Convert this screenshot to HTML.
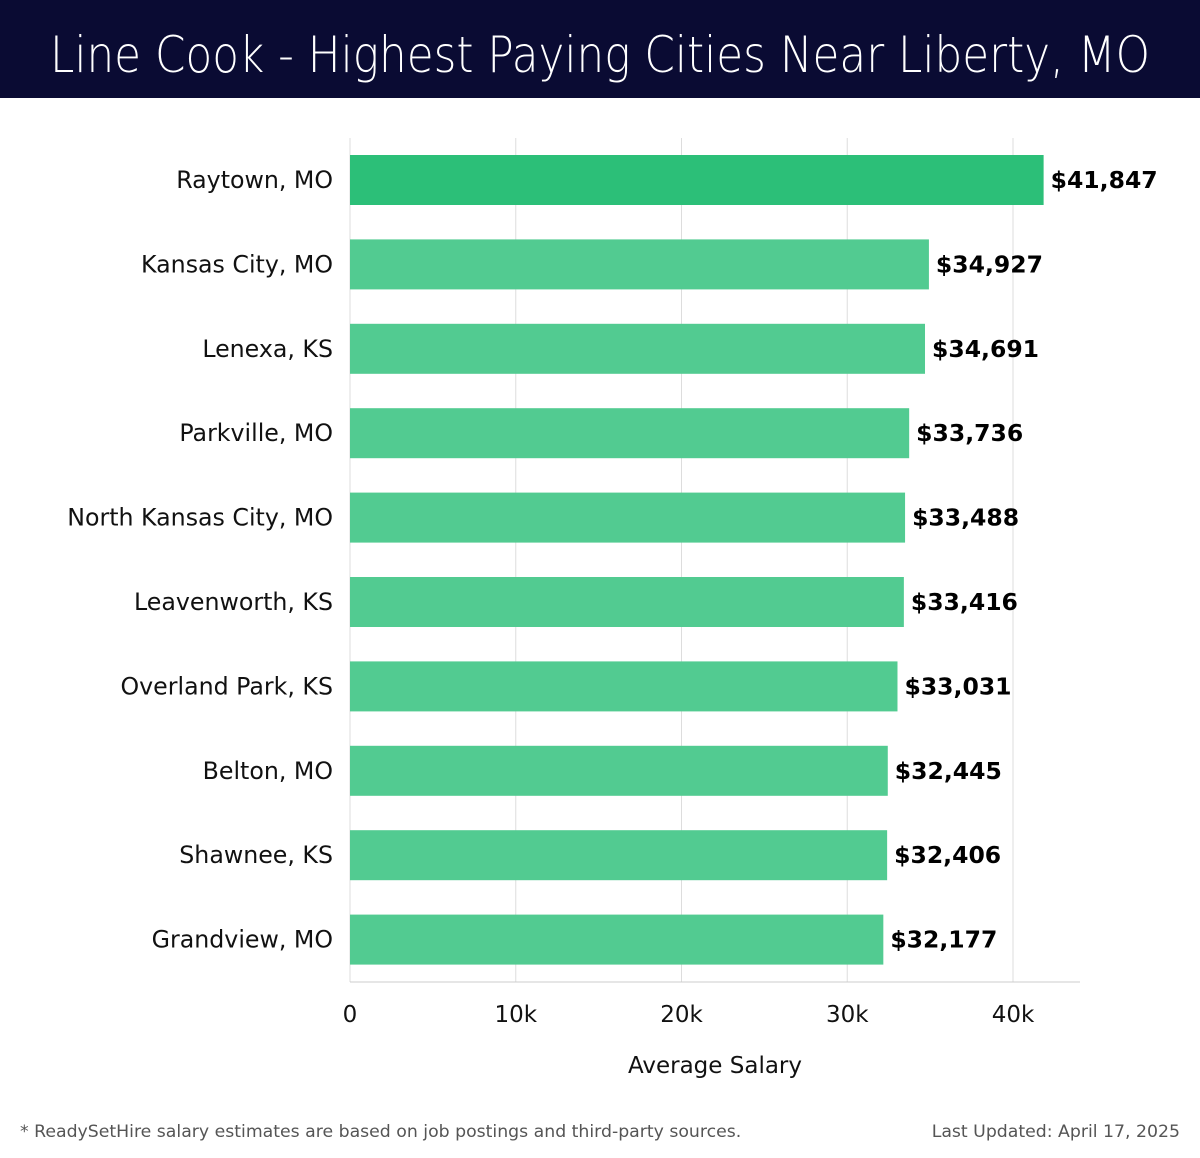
<!DOCTYPE html>
<html><head><meta charset="utf-8"><style>
body{margin:0;width:1200px;height:1158px;background:#fff;font-family:"DejaVu Sans","Liberation Sans",sans-serif;overflow:hidden}
</style></head><body>
<svg id="c" width="1200" height="1158" style="position:absolute;left:0;top:0" font-family="DejaVu Sans, Liberation Sans, sans-serif">
<rect x="0" y="0" width="1200" height="98" fill="#0a0b33"/>
<text x="600" y="72" text-anchor="middle" font-size="50" fill="#fff" font-weight="300" textLength="1100" lengthAdjust="spacingAndGlyphs">Line Cook - Highest Paying Cities Near Liberty, MO</text>
</svg>
<script>
const cities=["Raytown, MO","Kansas City, MO","Lenexa, KS","Parkville, MO","North Kansas City, MO","Leavenworth, KS","Overland Park, KS","Belton, MO","Shawnee, KS","Grandview, MO"];
const salaries=[41847,34927,34691,33736,33488,33416,33031,32445,32406,32177];
const valueLabels=["$41,847","$34,927","$34,691","$33,736","$33,488","$33,416","$33,031","$32,445","$32,406","$32,177"];
const ticks=[0,10000,20000,30000,40000];
const tickLabels=["0","10k","20k","30k","40k"];
const svg=document.getElementById('c');const NS="http://www.w3.org/2000/svg";
const x=v=>350+v*(663/40000);
const y=i=>155+i*84.4;
function mk(t,a,txt){const e=document.createElementNS(NS,t);for(const k in a)e.setAttribute(k,a[k]);if(txt!==undefined)e.textContent=txt;svg.appendChild(e);return e;}
ticks.forEach((t,i)=>{
 const g=mk('line',{x1:x(t),x2:x(t),y1:138,y2:982,stroke:'#dddddd','stroke-width':1});
 
 
 const l=mk('text',{x:x(t),y:1022,'text-anchor':'middle','font-size':23,fill:'#111'},tickLabels[i]);
 
 
});
const ax=mk('line',{x1:350,x2:1080,y1:982,y2:982,stroke:'#cccccc','stroke-width':1});


cities.forEach((c,i)=>{
 const b=mk('rect',{x:350,y:y(i),width:x(salaries[i])-350,height:50,fill:i===0?'#2cbf78':'#52cb91'});
 
 
 const cl=mk('text',{x:333,y:y(i)+33,'text-anchor':'end','font-size':23.7,fill:'#111'},c);
 
 
 const vl=mk('text',{x:x(salaries[i])+7,y:y(i)+33,'font-size':23.5,'font-weight':'bold',fill:'#000'},valueLabels[i]);
 
 
});
const xt=mk('text',{x:715,y:1073,'text-anchor':'middle','font-size':23,fill:'#111'},'Average Salary');


const f1=mk('text',{x:20,y:1137,'font-size':17.3,fill:'#555'},'* ReadySetHire salary estimates are based on job postings and third-party sources.');


const f2=mk('text',{x:1180,y:1137,'text-anchor':'end','font-size':17.3,fill:'#555'},'Last Updated: April 17, 2025');


</script>
</body></html>
